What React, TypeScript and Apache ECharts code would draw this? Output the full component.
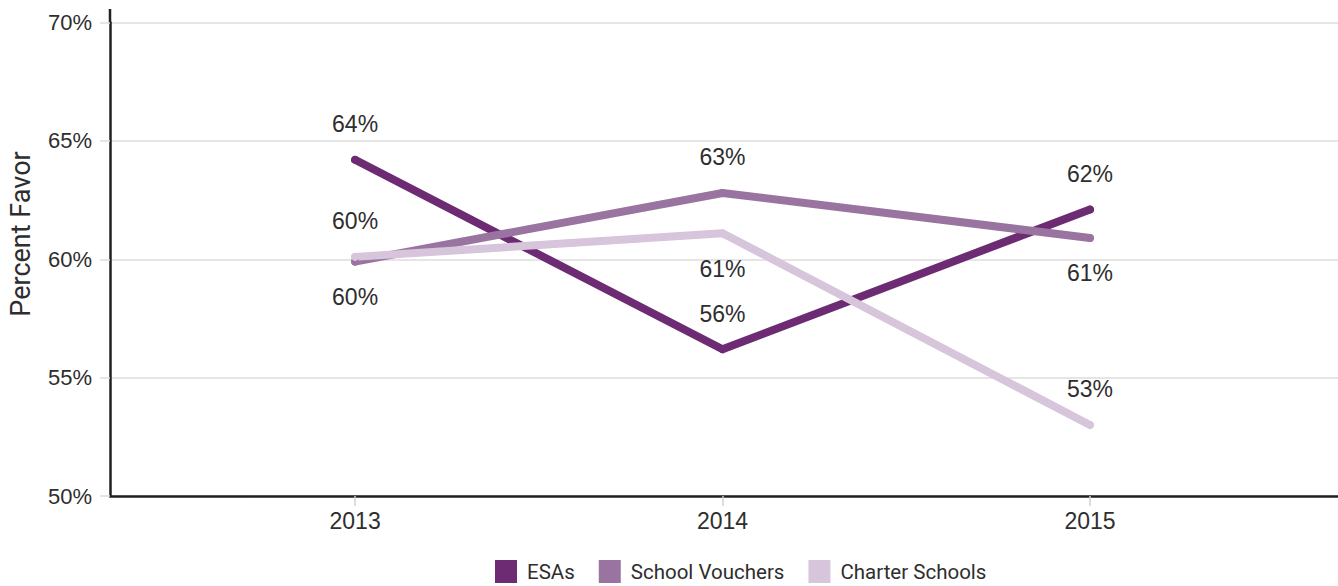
import React, { useEffect, useRef } from "react";
import * as echarts from "echarts";

const years = [2013, 2014, 2015];
const esas = [64.2, 56.2, 62.1];
const vouchers = [59.9, 62.8, 60.9];
const charters = [60.1, 61.1, 53.0];
const esaLabelPos = ["top", "top", "top"];
const voucherLabelPos = ["bottom", "top", "bottom"];
const charterLabelPos = ["top", "bottom", "top"];
const yTicks = [50, 55, 60, 65, 70];
const seriesNames = ["ESAs", "School Vouchers", "Charter Schools"];
const colors = ["#6c2b72", "#9a74a0", "#d7c5db"];

const NUM_FONT = "'Liberation Sans', Arial, sans-serif";
const TXT_FONT = "Roboto, 'Liberation Sans', Arial, sans-serif";
const TEXT_COLOR = "#2e2e2e";

function buildSeries(name: string, values: number[], positions: string[], color: string) {
  return {
    name,
    type: "line",
    data: values.map((v, i) => ({
      value: [years[i], v],
      label: { position: positions[i] },
    })),
    symbol: "circle",
    symbolSize: 8,
    showSymbol: true,
    lineStyle: { color, width: 8, cap: "round", join: "round" },
    itemStyle: { color, borderWidth: 0 },
    label: {
      show: true,
      distance: 20,
      fontFamily: NUM_FONT,
      fontSize: 23,
      color: TEXT_COLOR,
      formatter: (p: any) => Math.round(p.value[1]) + "%",
    },
    emphasis: { disabled: true },
    z: 3,
  };
}

export default function App() {
  const ref = useRef<HTMLDivElement>(null);
  useEffect(() => {
    if (!ref.current) return;
    const chart = echarts.init(ref.current, undefined, { renderer: "svg" });
    chart.setOption({
      animation: false,
      backgroundColor: "#ffffff",
      grid: { left: 110, right: 0, top: 22.5, bottom: 90, containLabel: false, outerBoundsMode: "none" },
      xAxis: {
        type: "value",
        min: years[0] - 0.667,
        max: years[years.length - 1] + 0.675,
        splitLine: { show: false },
        axisLine: { show: true, onZero: false, lineStyle: { color: "#231f20", width: 2.5 } },
        axisTick: { show: true, length: 10, lineStyle: { color: "#d0d0d0", width: 1.5 }, customValues: years },
        axisLabel: {
          show: true,
          customValues: years,
          margin: 13,
          fontFamily: NUM_FONT,
          fontSize: 23,
          color: TEXT_COLOR,
          formatter: (v: number) => String(v),
        },
      },
      yAxis: {
        type: "value",
        min: yTicks[0],
        max: yTicks[yTicks.length - 1],
        interval: 5,
        axisLine: { show: true, lineStyle: { color: "#231f20", width: 2.5 } },
        axisTick: { show: true, length: 10, lineStyle: { color: "#dcdcdc", width: 1.5 } },
        splitLine: { show: true, lineStyle: { color: "#dcdcdc", width: 1.5 } },
        axisLabel: {
          margin: 18,
          fontFamily: NUM_FONT,
          fontSize: 22,
          color: TEXT_COLOR,
          formatter: (v: number) => v + "%",
        },
      },
      legend: {
        left: 495,
        top: 560,
        padding: 0,
        itemWidth: 22,
        itemHeight: 23,
        itemGap: 24,
        icon: "rect",
        textStyle: { fontFamily: TXT_FONT, fontSize: 20.5, lineHeight: 22, color: TEXT_COLOR, padding: [0, 0, 0, 5] },
        data: seriesNames.map((n, i) => ({ name: n, itemStyle: { color: colors[i] } })),
      },
      graphic: [
        {
          type: "line",
          shape: { x1: 110, y1: 9, x2: 110, y2: 23 },
          style: { stroke: "#231f20", lineWidth: 2.5 },
        },
        {
          type: "text",
          x: 21,
          y: 234,
          rotation: Math.PI / 2,
          style: {
            text: "Percent Favor",
            fontFamily: TXT_FONT,
            fontSize: 27,
            fill: TEXT_COLOR,
            align: "center",
            verticalAlign: "middle",
          },
        },
      ],
      series: [
        buildSeries(seriesNames[0], esas, esaLabelPos, colors[0]),
        buildSeries(seriesNames[1], vouchers, voucherLabelPos, colors[1]),
        buildSeries(seriesNames[2], charters, charterLabelPos, colors[2]),
      ],
    });
    return () => chart.dispose();
  }, []);
  return <div ref={ref} style={{ position: "fixed", left: 0, top: 0, width: 1338, height: 586 }} />;
}
